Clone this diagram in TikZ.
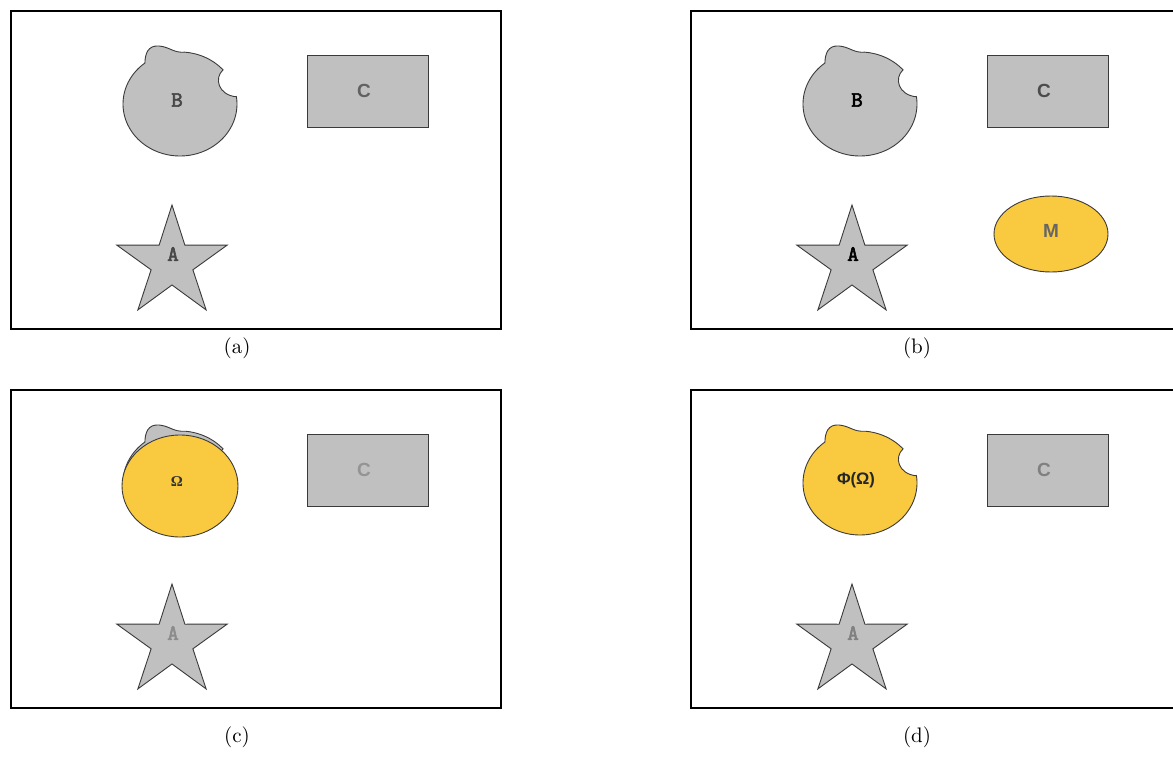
\documentclass[tikz,border=0pt]{standalone}
\usepackage{fontspec}
\usetikzlibrary{shapes.geometric}
\newfontfamily\monofam{Latin Modern Mono}[FakeBold=2.5]
\newfontfamily\sansfam{Liberation Sans}
\newfontfamily\seriffam{Liberation Serif}

\definecolor{shapegray}{HTML}{C0C0C0}
\definecolor{edgegray}{HTML}{3A3A3A}
\definecolor{gold}{HTML}{F9C93F}

\tikzset{
  panel/.style={draw=black, line width=0.55pt},
  grayshape/.style={fill=shapegray, draw=edgegray, line width=0.45pt},
  goldshape/.style={fill=gold, draw=edgegray, line width=0.45pt},
  monolbl/.style={inner sep=0pt, font=\monofam\bfseries\fontsize{11}{12}\selectfont},
  sanslbl/.style={inner sep=0pt, font=\sansfam\bfseries\fontsize{9.5}{10}\selectfont},
  phisty/.style={inner sep=0pt, font=\sansfam\bfseries\fontsize{8.3}{9}\selectfont},
  seriflbl/.style={inner sep=0pt, font=\seriffam\bfseries\fontsize{7.5}{8}\selectfont},
  caption/.style={inner sep=0pt, font=\fontsize{10.5}{12}\selectfont}
}

% irregular blob with a bump on top and a bite on the right
\def\blobpath{plot[domain=-8:232,samples=90] ({180+57*cos(\x)},{104+52*sin(\x)})
  .. controls (145,54) and (148,45) .. (159,46)
  .. controls (170,47) and (173,53) .. (185,52.2)
  -- plot[domain=275:319,samples=30] ({180+57*cos(\x)},{104+52*sin(\x)})
  .. controls (214,78) and (218,95) .. (236.4,96.8) -- cycle}
% five-pointed star
\def\starpath{(172,205) -- (184.9,245.2) -- (227.2,245.1) -- (192.9,269.8)
  -- (206.1,309.9) -- (172,285) -- (137.9,309.9) -- (151.1,269.8)
  -- (116.8,245.1) -- (159.1,245.2) -- cycle}

\begin{document}
\begin{tikzpicture}[x=0.5pt, y=-0.5pt]
\useasboundingbox (0,0) rectangle (1173,765);

% (a)
\begin{scope}
  \draw[panel] (11,11) rectangle (501,329);
  \draw[grayshape] \blobpath;
  \draw[grayshape] (307,55) rectangle (428,127);
  \draw[grayshape] \starpath;
  \node[monolbl, text=black!72] (aB) at (177,100) {B};
  \node[sanslbl, text=black!62] (aC) at (364,91) {C};
  \node[monolbl, text=black!72] (aA) at (173,254) {A};
\end{scope}
\node[caption] (capa) at (237,348) {(a)};

% (b)
\begin{scope}[shift={(680,0)}]
  \draw[panel] (11,11) rectangle (501,329);
  \draw[grayshape] \blobpath;
  \draw[grayshape] (307,55) rectangle (428,127);
  \draw[grayshape] \starpath;
  \node[ellipse, goldshape, minimum width=57pt, minimum height=38pt, inner sep=0pt] (bM) at (371,234) {};
  \node[monolbl, text=black] (bB) at (177,100) {B};
  \node[sanslbl, text=black!70] (bC) at (364,91) {C};
  \node[monolbl, text=black] (bA) at (173,254) {A};
  \node[sanslbl, text=black!60] (bMl) at (371,231) {M};
\end{scope}
\node[caption] (capb) at (917,348) {(b)};

% (c)
\begin{scope}[shift={(0,379)}]
  \draw[panel] (11,11) rectangle (501,329);
  \draw[grayshape] \blobpath;
  \node[ellipse, goldshape, minimum width=58pt, minimum height=51pt, inner sep=0pt] (cO) at (180,107) {};
  \draw[grayshape] (307,55) rectangle (428,127);
  \draw[grayshape] \starpath;
  \node[seriflbl, text=black!80] (cOl) at (177,103) {Ω};
  \node[sanslbl, text=black!42] (cC) at (364,91) {C};
  \node[monolbl, text=black!45] (cA) at (173,254) {A};
\end{scope}
\node[caption] (capc) at (237,737) {(c)};

% (d)
\begin{scope}[shift={(680,379)}]
  \draw[panel] (11,11) rectangle (501,329);
  \draw[goldshape] \blobpath;
  \draw[grayshape] (307,55) rectangle (428,127);
  \draw[grayshape] \starpath;
  \node[phisty, text=black!85] (dP) at (176,101) {Φ(Ω)};
  \node[sanslbl, text=black!50] (dC) at (364,91) {C};
  \node[monolbl, text=black!50] (dA) at (173,254) {A};
\end{scope}
\node[caption] (capd) at (917,737) {(d)};
\end{tikzpicture}
\end{document}
